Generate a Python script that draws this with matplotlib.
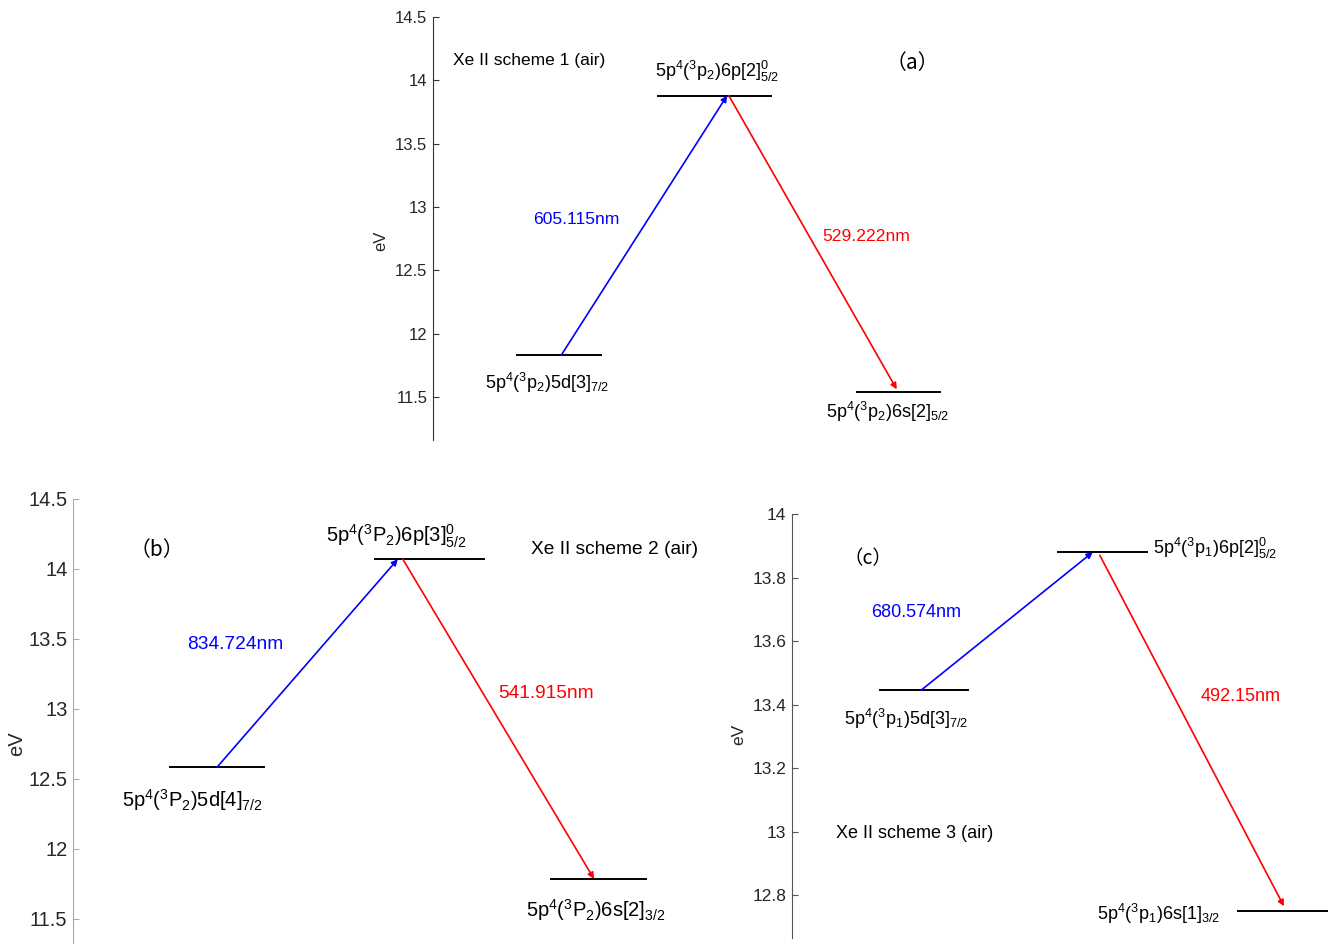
import matplotlib
matplotlib.use("Agg")
import matplotlib.pyplot as plt

plt.rcParams['font.family'] = ['Liberation Sans', 'DejaVu Sans']
plt.rcParams['mathtext.fontset'] = 'custom'
plt.rcParams['mathtext.rm'] = 'Liberation Sans'
plt.rcParams['mathtext.it'] = 'Liberation Sans:italic'

# ---- data (energies in eV) ----
# scheme 1 (a)
a_levels = [11.83, 13.88, 11.54]
a_level_x = [(15.8, 31.7), (42.5, 63.8), (80.0, 95.7)]
a_labels = [r'5p$^4$($^3$p$_2$)5d[3]$_{7/2}$',
            r'5p$^4$($^3$p$_2$)6p[2]$^0_{5/2}$',
            r'5p$^4$($^3$p$_2$)6s[2]$_{5/2}$']
a_waves = ['605.115nm', '529.222nm']
a_yticks = [11.5, 12, 12.5, 13, 13.5, 14, 14.5]

# scheme 2 (b)
b_levels = [12.585, 14.07, 11.785]
b_level_x = [(15.5, 30.5), (48.2, 65.6), (76.2, 91.4)]
b_labels = [r'5p$^4$($^3$P$_2$)5d[4]$_{7/2}$',
            r'5p$^4$($^3$P$_2$)6p[3]$^0_{5/2}$',
            r'5p$^4$($^3$P$_2$)6s[2]$_{3/2}$']
b_waves = ['834.724nm', '541.915nm']
b_yticks = [11.5, 12, 12.5, 13, 13.5, 14, 14.5]

# scheme 3 (c)
c_levels = [13.445, 13.88, 12.75]
c_level_x = [(16.3, 32.6), (49.3, 65.7), (82.6, 99.1)]
c_labels = [r'5p$^4$($^3$p$_1$)5d[3]$_{7/2}$',
            r'5p$^4$($^3$p$_1$)6p[2]$^0_{5/2}$',
            r'5p$^4$($^3$p$_1$)6s[1]$_{3/2}$']
c_waves = ['680.574nm', '492.15nm']
c_yticks = [12.8, 13, 13.2, 13.4, 13.6, 13.8, 14]

W, H = 1332, 944
fig = plt.figure(figsize=(W / 100, H / 100), dpi=100)


def make_ax(x0, x1, ytop, ybot, ylim, yticks, spine_col, label_xy, fs):
    ax = fig.add_axes([x0 / W, 1 - ybot / H, (x1 - x0) / W, (ybot - ytop) / H])
    ax.set_xlim(0, 100)
    ax.set_ylim(*ylim)
    for s in ['top', 'right', 'bottom']:
        ax.spines[s].set_visible(False)
    ax.spines['left'].set_color(spine_col)
    ax.set_xticks([])
    ax.set_yticks(yticks)
    ax.set_yticklabels([f'{t:g}' for t in yticks])
    ax.tick_params(axis='y', direction='in', length=4, color=spine_col,
                   labelsize=fs, labelcolor='#262626', pad=4)
    ax.set_ylabel('eV', fontsize=fs, color='#262626')
    ax.yaxis.set_label_coords(*label_xy)
    ax.patch.set_alpha(0)
    return ax


def draw_levels(ax, levels, xs):
    for e, (xa, xb) in zip(levels, xs):
        ax.plot([xa, xb], [e, e], color='black', lw=1.4)


def arrow(ax, start, end, col):
    ax.annotate('', xy=end, xytext=start,
                arrowprops=dict(arrowstyle='-|>', color=col, lw=1.2,
                                mutation_scale=9, shrinkA=0, shrinkB=0))


cjk = ['Noto Sans CJK SC', 'DejaVu Sans']

# ---- (a) ----
ax = make_ax(433, 963, 17, 440, (11.16, 14.5), a_yticks, '#333333', (-0.085, 0.47), 12)
draw_levels(ax, a_levels, a_level_x)
arrow(ax, (24.2, a_levels[0]), (55.5, a_levels[1]), 'blue')
arrow(ax, (55.8, a_levels[1]), (87.5, a_levels[2] + 0.02), 'red')
ax.text(18.1, 14.16, 'Xe II scheme 1 (air)', fontsize=12.5, ha='center', va='center')
ax.text(90.4, 14.14, '（a）', fontsize=15, ha='center', va='center', family=cjk)
ax.text(53.6, 14.07, a_labels[1], fontsize=13, ha='center', va='center')
ax.text(21.5, 11.61, a_labels[0], fontsize=13, ha='center', va='center')
ax.text(85.8, 11.385, a_labels[2], fontsize=13, ha='center', va='center')
ax.text(27.0, 12.9, a_waves[0], fontsize=12.6, color='blue', ha='center', va='center')
ax.text(81.7, 12.77, a_waves[1], fontsize=12.6, color='red', ha='center', va='center')

# ---- (b) ----
ax = make_ax(73, 700, 499, 944, (11.32, 14.5), b_yticks, '#aaaaaa', (-0.075, 0.45), 14.5)
draw_levels(ax, b_levels, b_level_x)
arrow(ax, (23.0, b_levels[0]), (51.8, b_levels[1]), 'blue')
arrow(ax, (52.6, b_levels[1]), (83.1, b_levels[2]), 'red')
ax.text(13.4, 14.136, '（b）', fontsize=15, ha='center', va='center', family=cjk)
ax.text(86.4, 14.14, 'Xe II scheme 2 (air)', fontsize=13.8, ha='center', va='center')
ax.text(51.5, 14.23, b_labels[1], fontsize=14.5, ha='center', va='center')
ax.text(19.1, 12.35, b_labels[0], fontsize=14.5, ha='center', va='center')
ax.text(83.4, 11.56, b_labels[2], fontsize=14.5, ha='center', va='center')
ax.text(25.8, 13.457, b_waves[0], fontsize=13.8, color='blue', ha='center', va='center')
ax.text(75.4, 13.11, b_waves[1], fontsize=13.8, color='red', ha='center', va='center')

# ---- (c) ----
ax = make_ax(792, 1332, 514, 938, (12.665, 14.0), c_yticks, '#555555', (-0.085, 0.48), 12.5)
draw_levels(ax, c_levels, c_level_x)
arrow(ax, (23.9, c_levels[0]), (55.7, c_levels[1]), 'blue')
arrow(ax, (57.0, c_levels[1] - 0.01), (91.1, c_levels[2] + 0.015), 'red')
ax.text(14.1, 13.86, '（c）', fontsize=14, ha='center', va='center', family=cjk)
ax.text(22.8, 12.995, 'Xe II scheme 3 (air)', fontsize=13, ha='center', va='center')
ax.text(66.9, 13.89, c_labels[1], fontsize=13, ha='left', va='center')
ax.text(21.1, 13.355, c_labels[0], fontsize=13, ha='center', va='center')
ax.text(79.3, 12.74, c_labels[2], fontsize=13, ha='right', va='center')
ax.text(23.0, 13.69, c_waves[0], fontsize=13, color='blue', ha='center', va='center')
ax.text(83.1, 13.425, c_waves[1], fontsize=13, color='red', ha='center', va='center')

fig.savefig('out.png', dpi=100)
